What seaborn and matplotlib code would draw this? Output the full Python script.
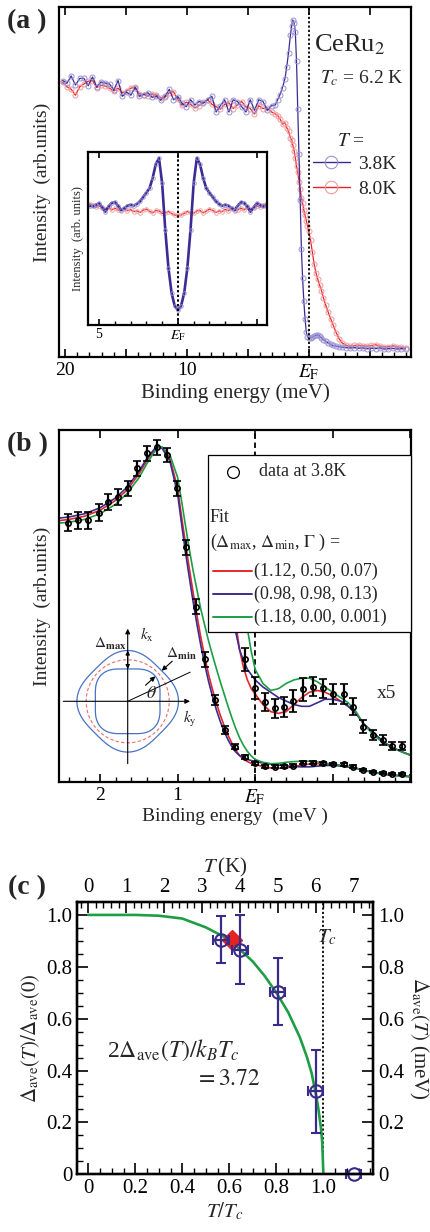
import numpy as np
import matplotlib
matplotlib.use("Agg")
import matplotlib.pyplot as plt
from matplotlib.lines import Line2D
from matplotlib.patches import Rectangle
from matplotlib.ticker import MultipleLocator, FixedLocator, FuncFormatter
import seaborn as sns

# ---------------- panel (a): CeRu2 spectra (binding energy in meV) ----------------
energy_a_head = np.round(np.arange(20.2, 3.0, -0.35), 2)          # 50 points
energy_a_mid = np.array([2.75, 2.55, 2.35, 2.15, 1.95, 1.8, 1.65, 1.5, 1.4, 1.3,
                         1.2, 1.1, 1.0, 0.9, 0.8, 0.7, 0.6, 0.5, 0.4, 0.3,
                         0.2, 0.1, 0.0, -0.15, -0.3, -0.45, -0.6, -0.75, -0.9, -1.05,
                         -1.2, -1.4, -1.6, -1.8, -2.0, -2.25, -2.5, -2.75])
energy_a_tail = np.round(np.arange(-3.05, -8.0, -0.35), 2)        # 15 points

int_38K_head = [0.790, 0.782, 0.803, 0.777, 0.796, 0.796, 0.775, 0.800, 0.772, 0.786,
                0.783, 0.780, 0.763, 0.790, 0.745, 0.757, 0.748, 0.770, 0.745, 0.750,
                0.755, 0.742, 0.745, 0.734, 0.745, 0.765, 0.735, 0.744, 0.725, 0.715,
                0.735, 0.720, 0.730, 0.725, 0.735, 0.745, 0.700, 0.718, 0.735, 0.700,
                0.735, 0.730, 0.715, 0.700, 0.735, 0.705, 0.735, 0.730, 0.705, 0.718]
int_38K_mid = [0.720, 0.735, 0.750, 0.770, 0.795, 0.830, 0.870, 0.920, 0.945, 0.963,
               0.955, 0.930, 0.845, 0.710, 0.580, 0.450, 0.310, 0.225, 0.160, 0.110,
               0.072, 0.058, 0.054, 0.054, 0.056, 0.059, 0.062, 0.063, 0.060, 0.054,
               0.050, 0.045, 0.040, 0.036, 0.033, 0.031, 0.029, 0.028]
int_38K_tail = [0.027, 0.026, 0.027, 0.025, 0.026, 0.024, 0.025, 0.024, 0.026, 0.023,
                0.024, 0.025, 0.023, 0.024, 0.023]

int_80K_head = [0.785, 0.772, 0.765, 0.748, 0.772, 0.780, 0.788, 0.790, 0.770, 0.776,
                0.774, 0.768, 0.760, 0.768, 0.755, 0.760, 0.768, 0.772, 0.752, 0.750,
                0.745, 0.752, 0.748, 0.740, 0.742, 0.755, 0.758, 0.736, 0.720, 0.728,
                0.722, 0.712, 0.718, 0.728, 0.735, 0.722, 0.715, 0.708, 0.722, 0.726,
                0.710, 0.720, 0.730, 0.715, 0.710, 0.694, 0.718, 0.710, 0.712, 0.700]
int_80K_mid = [0.695, 0.690, 0.680, 0.665, 0.670, 0.655, 0.645, 0.625, 0.620, 0.605,
               0.590, 0.570, 0.545, 0.530, 0.500, 0.480, 0.455, 0.440, 0.420, 0.405,
               0.390, 0.375, 0.360, 0.335, 0.300, 0.265, 0.240, 0.222, 0.205, 0.190,
               0.170, 0.148, 0.128, 0.110, 0.092, 0.070, 0.052, 0.040]
int_80K_tail = [0.034, 0.031, 0.033, 0.034, 0.032, 0.031, 0.033, 0.035, 0.031, 0.029,
                0.030, 0.032, 0.029, 0.028, 0.027]

# inset: symmetrized spectra, one half read (E >= 0), mirrored about E_F
energy_sym_half = np.array([5.6, 5.4, 5.2, 5.0, 4.8, 4.6, 4.4, 4.2, 4.0, 3.8,
                            3.6, 3.4, 3.2, 3.0, 2.8, 2.6, 2.4, 2.2, 2.0, 1.8,
                            1.6, 1.4, 1.2, 1.0, 0.8, 0.6, 0.4, 0.2, 0.0])
sym_38K_half = np.array([0.690, 0.685, 0.695, 0.703, 0.680, 0.655, 0.685, 0.705, 0.710, 0.690,
                         0.665, 0.675, 0.690, 0.695, 0.690, 0.700, 0.715, 0.740, 0.765, 0.790,
                         0.850, 0.930, 0.965, 0.820, 0.550, 0.330, 0.185, 0.110, 0.085])
sym_80K_half = np.array([0.700, 0.695, 0.680, 0.690, 0.675, 0.670, 0.680, 0.665, 0.675, 0.665,
                         0.660, 0.672, 0.660, 0.668, 0.655, 0.660, 0.650, 0.664, 0.670, 0.658,
                         0.648, 0.662, 0.660, 0.645, 0.648, 0.656, 0.645, 0.635, 0.636])

# ---------------- panel (b): data at 3.8 K and fits ----------------
energy_b = [2.41, 2.28, 2.15, 2.02, 1.90, 1.77, 1.64, 1.53, 1.40, 1.27,
            1.14, 1.01, 0.89, 0.76, 0.645, 0.516, 0.387, 0.258, 0.129, 0.0,
            -0.13, -0.26, -0.37, -0.49, -0.62, -0.75, -0.87, -1.01, -1.14, -1.26,
            -1.39, -1.52, -1.65, -1.76, -1.89]
int_b = [0.737, 0.744, 0.744, 0.765, 0.796, 0.809, 0.834, 0.891, 0.934, 0.951,
         0.929, 0.834, 0.667, 0.498, 0.349, 0.233, 0.148, 0.100, 0.072, 0.053,
         0.045, 0.044, 0.045, 0.046, 0.055, 0.055, 0.053, 0.051, 0.050, 0.044,
         0.034, 0.029, 0.026, 0.022, 0.022]
err_b = [0.025, 0.024, 0.024, 0.024, 0.023, 0.023, 0.022, 0.022, 0.021, 0.021,
         0.021, 0.021, 0.021, 0.021, 0.021, 0.014, 0.011, 0.007, 0.006, 0.005,
         0.004, 0.004, 0.004, 0.004, 0.004, 0.004, 0.004, 0.004, 0.004, 0.004,
         0.003, 0.003, 0.003, 0.003, 0.003]
energy_b5 = energy_b[18:]
int_b5 = [0.349, 0.266, 0.228, 0.209, 0.214, 0.231, 0.263, 0.271, 0.266, 0.250,
          0.250, 0.214, 0.157, 0.134, 0.119, 0.103, 0.103]
err_b5 = [0.033, 0.031, 0.026, 0.028, 0.028, 0.031, 0.032, 0.028, 0.028, 0.029,
          0.027, 0.025, 0.019, 0.015, 0.014, 0.012, 0.012]

energy_fit = np.array([2.55, 2.4, 2.2, 2.0, 1.8, 1.65, 1.5, 1.4, 1.3, 1.25,
                       1.2, 1.1, 1.0, 0.95, 0.9, 0.85, 0.8, 0.75, 0.7, 0.65,
                       0.6, 0.55, 0.5, 0.45, 0.4, 0.35, 0.3, 0.25, 0.2, 0.15,
                       0.1, 0.05, 0.0, -0.1, -0.2, -0.3, -0.4, -0.5, -0.6, -0.7,
                       -0.8, -0.9, -1.0, -1.1, -1.2, -1.3, -1.4, -1.5, -1.6, -1.7,
                       -1.8, -1.9, -2.02])
fit_112_050 = np.array([0.742, 0.746, 0.755, 0.772, 0.800, 0.830, 0.875, 0.912, 0.943, 0.952,
                        0.950, 0.920, 0.835, 0.755, 0.680, 0.608, 0.538, 0.472, 0.410, 0.355,
                        0.305, 0.262, 0.224, 0.190, 0.160, 0.133, 0.110, 0.090, 0.075, 0.065,
                        0.058, 0.053, 0.050, 0.044, 0.040, 0.039, 0.040, 0.044, 0.048, 0.051,
                        0.052, 0.051, 0.049, 0.046, 0.043, 0.039, 0.033, 0.029, 0.025, 0.0215,
                        0.019, 0.017, 0.015])
fit_098_098 = np.array([0.749, 0.753, 0.762, 0.779, 0.807, 0.838, 0.882, 0.918, 0.946, 0.953,
                        0.948, 0.912, 0.818, 0.735, 0.655, 0.582, 0.512, 0.447, 0.387, 0.333,
                        0.285, 0.243, 0.205, 0.172, 0.144, 0.120, 0.100, 0.085, 0.075, 0.069,
                        0.064, 0.061, 0.058, 0.054, 0.051, 0.048, 0.046, 0.044, 0.043, 0.043,
                        0.045, 0.047, 0.047, 0.046, 0.043, 0.039, 0.033, 0.029, 0.025, 0.0215,
                        0.019, 0.017, 0.015])
fit_118_000 = np.array([0.735, 0.738, 0.746, 0.762, 0.789, 0.820, 0.864, 0.903, 0.938, 0.950,
                        0.952, 0.930, 0.865, 0.800, 0.730, 0.662, 0.600, 0.545, 0.490, 0.445,
                        0.400, 0.360, 0.322, 0.285, 0.250, 0.215, 0.182, 0.152, 0.125, 0.104,
                        0.087, 0.074, 0.064, 0.056, 0.052, 0.053, 0.056, 0.058, 0.059, 0.059,
                        0.057, 0.054, 0.051, 0.048, 0.045, 0.040, 0.033, 0.028, 0.024, 0.021,
                        0.019, 0.017, 0.015])
fit_labels = ["(1.12, 0.50, 0.07)", "(0.98, 0.98, 0.13)", "(1.18, 0.00, 0.001)"]
# gap anisotropy used in the k-space sketch (meV)
gap_max, gap_min = 1.12, 0.50

# ---------------- panel (c): temperature dependence ----------------
Tc = 6.2
T_meas = np.array([3.5, 4.0, 5.0, 6.0, 7.0])
T_err = [0.2, 0.2, 0.2, 0.2, 0.2]
gap_ratio = [0.904, 0.865, 0.704, 0.321, 0.0]
gap_err = [0.09, 0.133, 0.13, 0.16, 0.0]
T_fit_point = 3.8
gap_fit_point = 0.904
bcs_t = [0.0, 0.1, 0.2, 0.3, 0.4, 0.5, 0.6, 0.7, 0.75, 0.8,
         0.85, 0.9, 0.93, 0.95, 0.97, 0.98, 0.99, 0.995, 1.0]
bcs_gap = [1.0, 1.0, 1.0, 0.997, 0.986, 0.952, 0.905, 0.82, 0.765, 0.70,
           0.625, 0.528, 0.452, 0.39, 0.30, 0.245, 0.175, 0.123, 0.0]

# ---------------- style ----------------
sns.set_theme(style="ticks")
plt.rcParams["font.family"] = ["Liberation Serif", "DejaVu Serif"]
plt.rcParams["mathtext.fontset"] = "stix"
plt.rcParams["axes.linewidth"] = 1.6
plt.rcParams["axes.edgecolor"] = "black"

BLUE = "#3b2c93"
BLUE_LIGHT = "#9a92d6"
RED = "#e6262c"
RED_LIGHT = "#f29a9a"
GREEN = "#1d9e45"
NAVY = "#3a2a8a"
SKETCH_BLUE = "#4a72c4"

W, H = 430, 1232


def box(x0, y0, x1, y1):
    return [x0 / W, 1 - y1 / H, (x1 - x0) / W, (y1 - y0) / H]


def ticks_in(ax, size, major=6, minor=3.5):
    ax.tick_params(axis="both", which="both", direction="in", labelsize=size,
                   colors="black")
    ax.tick_params(which="major", length=major, width=1.2)
    ax.tick_params(which="minor", length=minor, width=1.0)


fig = plt.figure(figsize=(W / 100, H / 100), dpi=100)

# ================= (a) =================
ax_a = fig.add_axes(box(59, 7, 411, 357))
energy_a = np.concatenate([energy_a_head, energy_a_mid, energy_a_tail])
int_38K = np.concatenate([int_38K_head, int_38K_mid, int_38K_tail])
int_80K = np.concatenate([int_80K_head, int_80K_mid, int_80K_tail])
sns.lineplot(x=energy_a, y=int_80K, ax=ax_a, color=RED, lw=0.9, marker="o", ms=3.6,
             mfc="none", mec=RED_LIGHT, mew=0.7, estimator=None, sort=False)
sns.lineplot(x=energy_a, y=int_38K, ax=ax_a, color=BLUE, lw=0.9, marker="o", ms=3.6,
             mfc="none", mec=BLUE_LIGHT, mew=0.7, estimator=None, sort=False)
ax_a.axvline(0, color="black", ls=(0, (1.2, 1.2)), lw=1.3)
ax_a.set_xlim(20.5, -8.4)
ax_a.set_ylim(0, 1)
ax_a.xaxis.set_major_locator(FixedLocator([20, 15, 10, 5, 0, -5]))
ax_a.xaxis.set_major_formatter(FuncFormatter(
    lambda v, p: {20: "20", 10: "10", 0: r"$E_\mathrm{F}$"}.get(int(round(v)), "")))
ax_a.xaxis.set_minor_locator(MultipleLocator(1))
ticks_in(ax_a, 14)
ax_a.tick_params(top=True, bottom=True, left=False, right=False, labelleft=False)
ax_a.set_xlabel("Binding energy (meV)", fontsize=15, labelpad=1)
ax_a.set_ylabel("Intensity  (arb.units)", fontsize=14, labelpad=6)

fig.text(314 / W, 1 - 45 / H, "CeRu$_{2}$", fontsize=19, ha="left", va="center")
fig.text(320 / W, 1 - 78 / H, r"$T_c$ = 6.2 K", fontsize=14, ha="left", va="center")
fig.text(337 / W, 1 - 142 / H, r"$T$ =", fontsize=14, ha="left", va="center")

handles_a = [Line2D([], [], color=BLUE, lw=1.0, marker="o", ms=9, mfc="none",
                    mec=BLUE_LIGHT, mew=0.8),
             Line2D([], [], color=RED, lw=1.0, marker="o", ms=9, mfc="none",
                    mec=RED_LIGHT, mew=0.8)]
ax_a.legend(handles_a, ["3.8K", "8.0K"], loc="upper left",
            bbox_to_anchor=((312.7 - 59) / 352, (357 - 155) / 350),
            frameon=False, fontsize=14, handlelength=1.9, handletextpad=0.45,
            labelspacing=0.38, borderpad=0, borderaxespad=0)

# inset of (a)
ax_in = fig.add_axes(box(88, 152, 267, 325))
energy_sym = np.concatenate([energy_sym_half, -energy_sym_half[-2::-1]])
sym_38K = np.concatenate([sym_38K_half, sym_38K_half[-2::-1]])
sym_80K = np.concatenate([sym_80K_half, sym_80K_half[-2::-1]])
sns.lineplot(x=energy_sym, y=sym_80K, ax=ax_in, color=RED, lw=0.9, marker="o", ms=2.6,
             mfc="none", mec=RED_LIGHT, mew=0.6, estimator=None, sort=False)
sns.lineplot(x=energy_sym, y=sym_38K, ax=ax_in, color=BLUE, lw=1.9, marker="o", ms=2.6,
             mfc="none", mec=BLUE_LIGHT, mew=0.6, estimator=None, sort=False)
ax_in.axvline(0, color="black", ls=(0, (1.2, 1.2)), lw=1.4)
ax_in.set_xlim(5.7, -5.65)
ax_in.set_ylim(0, 1)
ax_in.xaxis.set_major_locator(FixedLocator([5, 0, -5]))
ax_in.xaxis.set_major_formatter(FuncFormatter(
    lambda v, p: {5: "5", 0: r"$E_\mathrm{F}$"}.get(int(round(v)), "")))
ax_in.xaxis.set_minor_locator(MultipleLocator(1))
ticks_in(ax_in, 10, major=4, minor=3)
ax_in.tick_params(top=True, bottom=True, left=False, right=False, labelleft=False, pad=2)
ax_in.set_ylabel("Intensity  (arb. units)", fontsize=9, labelpad=3)

# ================= (b) =================
ax_b = fig.add_axes(box(59, 430, 411, 782))
fit_colors = [RED, BLUE, GREEN]
fits = [fit_112_050, fit_098_098, fit_118_000]
x5_mask = energy_fit <= 0.3
for c, f in zip(fit_colors, fits):
    sns.lineplot(x=energy_fit, y=f, ax=ax_b, color=c, lw=1.2, estimator=None, sort=False)
    sns.lineplot(x=energy_fit[x5_mask], y=5 * f[x5_mask], ax=ax_b, color=c, lw=1.2,
                 estimator=None, sort=False)
ax_b.errorbar(energy_b, int_b, yerr=err_b, fmt="o", ms=3.8, mfc="none", mec="black",
              mew=1.2, ecolor="black", elinewidth=1.6, capsize=2.8, capthick=1.6, zorder=4)
ax_b.errorbar(energy_b5, int_b5, yerr=err_b5, fmt="o", ms=3.8, mfc="none", mec="black",
              mew=1.2, ecolor="black", elinewidth=1.6, capsize=2.8, capthick=1.6, zorder=4)
ax_b.axvline(0, color="black", ls=(0, (3, 2)), lw=1.3, zorder=1)
ax_b.set_xlim(2.53, -2.01)
ax_b.set_ylim(0, 1)
ax_b.xaxis.set_major_locator(FixedLocator([2, 1, 0, -1, -2]))
ax_b.xaxis.set_major_formatter(FuncFormatter(
    lambda v, p: {2: "2", 1: "1", 0: r"$E_\mathrm{F}$"}.get(int(round(v)), "")))
ax_b.xaxis.set_minor_locator(MultipleLocator(0.2))
ticks_in(ax_b, 14)
ax_b.tick_params(top=True, bottom=True, left=False, right=False, labelleft=False)
ax_b.set_xlabel("Binding energy  (meV )", fontsize=14, labelpad=1)
ax_b.set_ylabel("Intensity  (arb.units)", fontsize=14, labelpad=6)
ax_b.text((387 - 59) / 352, (782 - 693) / 352, "x5", transform=ax_b.transAxes,
          fontsize=14, ha="center", va="center")

# legend box of (b)
tb = ax_b.transAxes


def bx(x):
    return (x - 59) / 352


def by(y):
    return (782 - y) / 352


ax_b.add_patch(Rectangle((bx(207.7), by(632.3)), bx(411) - bx(207.7), by(455) - by(632.3),
                         transform=tb, facecolor="white", edgecolor="black", lw=0.9,
                         zorder=5, clip_on=False))
ax_b.plot([bx(233)], [by(472)], "o", ms=8.5, mfc="none", mec="black", mew=0.9,
          transform=tb, zorder=6, clip_on=False)
ax_b.text(bx(259), by(472), "data at 3.8K", transform=tb, fontsize=13, ha="left",
          va="center", zorder=6)
ax_b.text(bx(210), by(518), "Fit", transform=tb, fontsize=13, ha="left", va="center", zorder=6)
ax_b.text(bx(210), by(542), r"($\Delta_\mathrm{max}$, $\Delta_\mathrm{min}$, $\Gamma$ ) =",
          transform=tb, fontsize=13, ha="left", va="center", zorder=6)
for i, (c, lab) in enumerate(zip(fit_colors, fit_labels)):
    yy = 571 + 23 * i
    ax_b.plot([bx(213), bx(252)], [by(yy), by(yy)], color=c, lw=1.4, transform=tb,
              zorder=6, clip_on=False)
    ax_b.text(bx(254), by(yy), lab, transform=tb, fontsize=13, ha="left", va="center",
              zorder=6)

# k-space sketch inside (b)
ax_d = fig.add_axes(box(58, 622, 200, 772))
ax_d.set_xlim(-69.7, 72.3)
ax_d.set_ylim(-70.7, 79.3)
ax_d.axis("off")
R = 41.5
scale = 8.3
theta = np.linspace(0, 2 * np.pi, 721)
gap_theta = scale * (gap_min + (gap_max - gap_min) * np.cos(2 * theta) ** 2)
ax_d.plot(R * np.cos(theta), R * np.sin(theta), color="#f06a6a", lw=0.8, ls=(0, (3, 2)))
ax_d.plot((R + gap_theta) * np.cos(theta), (R + gap_theta) * np.sin(theta),
          color=SKETCH_BLUE, lw=0.9)
ax_d.plot((R - gap_theta) * np.cos(theta), (R - gap_theta) * np.sin(theta),
          color=SKETCH_BLUE, lw=0.9)
arrow_kw = dict(arrowstyle="-|>", lw=0.8, color="black", shrinkA=0, shrinkB=0,
                mutation_scale=7)
ax_d.annotate("", xy=(0, 72.6), xytext=(0, -62.4), arrowprops=arrow_kw)
ax_d.annotate("", xy=(62.3, 0), xytext=(-64.4, 0), arrowprops=arrow_kw)
g_ax = scale * gap_max
ax_d.annotate("", xy=(0, R + g_ax), xytext=(0, R - g_ax),
              arrowprops=dict(arrowstyle="<|-|>", lw=0.8, color="black", shrinkA=0,
                              shrinkB=0, mutation_scale=6))
phi = np.deg2rad(42)
g_phi = scale * (gap_min + (gap_max - gap_min) * np.cos(2 * phi) ** 2)
ax_d.annotate("", xy=((R + g_phi) * np.cos(phi), (R + g_phi) * np.sin(phi)),
              xytext=(60 * np.cos(phi), 60 * np.sin(phi)), arrowprops=arrow_kw)
ax_d.annotate("", xy=((R - g_phi) * np.cos(phi), (R - g_phi) * np.sin(phi)),
              xytext=(24 * np.cos(phi), 24 * np.sin(phi)), arrowprops=arrow_kw)
psi = np.deg2rad(25)
ax_d.plot([0, 69 * np.cos(psi)], [0, 69 * np.sin(psi)], color="black", lw=0.7)
ax_d.text(-17.7, 57.6, r"$\Delta_\mathbf{max}$", fontsize=11, ha="center", va="center")
ax_d.text(12.5, 66, r"$k_\mathrm{x}$", fontsize=11, ha="left", va="center")
ax_d.text(54, 47.6, r"$\Delta_\mathbf{min}$", fontsize=11, ha="center", va="center")
ax_d.text(24, 7.6, r"$\theta$", fontsize=13, ha="center", va="center")
ax_d.text(62.3, -17.4, r"$k_\mathrm{y}$", fontsize=11, ha="center", va="center")

# ================= (c) =================
ax_c = fig.add_axes(box(77, 901.7, 373, 1174.3))
t_lo, t_hi = -0.048, 1.211
sns.lineplot(x=bcs_t, y=bcs_gap, ax=ax_c, color=GREEN, lw=1.9, estimator=None,
             sort=False, zorder=2)
ax_c.plot([T_fit_point / Tc], [gap_fit_point], "D", color="#e52421", ms=10, zorder=3)
ax_c.errorbar(T_meas / Tc, gap_ratio, yerr=gap_err, xerr=np.array(T_err) / Tc, fmt="o",
              ms=9, mfc="none", mec=NAVY, mew=1.5, ecolor=NAVY, elinewidth=1.6,
              capsize=3.5, capthick=1.6, zorder=4, clip_on=False)
ax_c.axvline(1.0, color="black", ls=(0, (1.2, 1.2)), lw=1.3, zorder=1)
ax_c.set_xlim(t_lo, t_hi)
ax_c.set_ylim(0, 1.051)
fmt01 = FuncFormatter(lambda v, p: "0" if abs(v) < 1e-9 else f"{v:.1f}")
ax_c.xaxis.set_major_locator(FixedLocator([0, 0.2, 0.4, 0.6, 0.8, 1.0]))
ax_c.xaxis.set_minor_locator(MultipleLocator(0.05))
ax_c.xaxis.set_major_formatter(fmt01)
ax_c.yaxis.set_major_locator(MultipleLocator(0.2))
ax_c.yaxis.set_minor_locator(MultipleLocator(0.05))
ax_c.yaxis.set_major_formatter(fmt01)
ticks_in(ax_c, 15, major=8, minor=4)
ax_c.tick_params(top=False, right=False)
ax_c.set_xlabel(r"$T/T_c$", fontsize=15, labelpad=2)
ax_c.set_ylabel(r"$\Delta_\mathrm{ave}(T)/\Delta_\mathrm{ave}(\mathit{0})$", fontsize=15,
                labelpad=3)

ax_top = ax_c.twiny()
ax_top.set_xlim(t_lo * Tc, t_hi * Tc)
ax_top.xaxis.set_major_locator(MultipleLocator(1))
ax_top.xaxis.set_minor_locator(MultipleLocator(0.2))
ticks_in(ax_top, 15, major=8, minor=4)
ax_top.set_xlabel(r"$T\,$(K)", fontsize=15, labelpad=4)

ax_r = ax_c.twinx()
ax_r.set_ylim(0, 1.051)
ax_r.yaxis.set_major_locator(MultipleLocator(0.2))
ax_r.yaxis.set_minor_locator(MultipleLocator(0.05))
ax_r.yaxis.set_major_formatter(fmt01)
ticks_in(ax_r, 15, major=8, minor=4)
ax_r.set_ylabel(r"$\Delta_\mathrm{ave}(T)$ (meV)", fontsize=15, rotation=270, labelpad=19)

ax_c.text(0.973, 0.915, r"$T_c$", fontsize=15, ha="left", va="center")
ax_c.text(0.078, 0.48, r"2$\Delta_\mathrm{ave}(T)/k_BT_c$", fontsize=17, ha="left",
          va="center")
ax_c.text(0.592, 0.364, r"$=\mathit{3.72}$", fontsize=17, ha="center", va="center")

# panel letters
for lab, yy in [("(a )", 22), ("(b )", 445), ("(c )", 888)]:
    fig.text(27 / W, 1 - yy / H, lab, fontsize=20, fontweight="bold", ha="center",
             va="center")

fig.savefig("out.png", dpi=100)
